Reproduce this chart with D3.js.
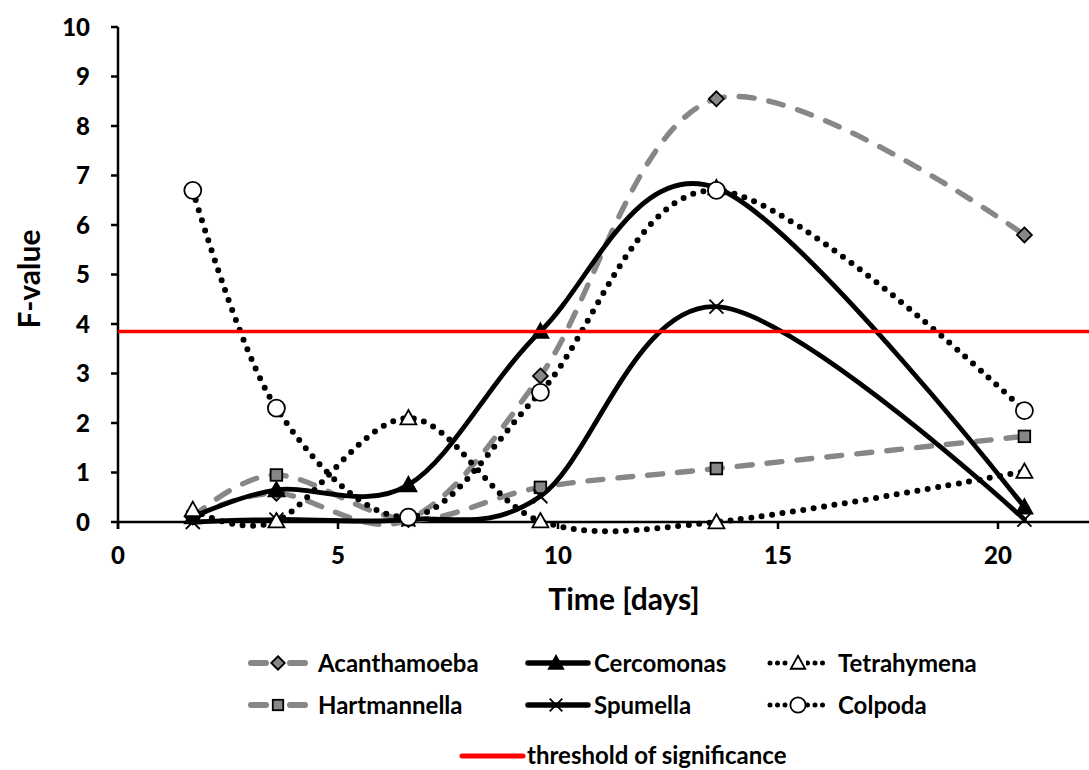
<!DOCTYPE html>
<html>
<head>
<meta charset="utf-8">
<script src="https://cdn.jsdelivr.net/npm/d3@7/dist/d3.min.js"></script>
<style>
  html, body { margin: 0; padding: 0; background: #fff; }
  svg { display: block; }
  text { font-family: Lato, "Open Sans", sans-serif; font-weight: bold; fill: #000; }
</style>
</head>
<body>
<svg id="chart" width="1089" height="770"></svg>
<script>
// Sampling days
const days = [1.7, 3.6, 6.6, 9.6, 13.6, 20.6];

// F-values per protist
const acanthamoeba = [0.1, 0.58, 0.05, 2.95, 8.55, 5.8];
const hartmannella = [0.1, 0.95, 0.05, 0.7, 1.08, 1.73];
const cercomonas   = [0.1, 0.65, 0.75, 3.85, 6.75, 0.3];
const spumella     = [0.0, 0.05, 0.05, 0.52, 4.35, 0.05];
const tetrahymena  = [0.25, 0.02, 2.1, 0.02, 0.0, 1.02];
const colpoda      = [6.7, 2.3, 0.1, 2.62, 6.7, 2.25];

const threshold = 3.85;
const thresholdLabel = "threshold of significance";

const xTicks = [0, 5, 10, 15, 20];
const yTicks = [0, 1, 2, 3, 4, 5, 6, 7, 8, 9, 10];

const series = [
  { name: "Acanthamoeba", values: acanthamoeba, style: "gray",  marker: "diamond" },
  { name: "Hartmannella", values: hartmannella, style: "gray",  marker: "square" },
  { name: "Cercomonas",   values: cercomonas,   style: "solid", marker: "triangleFilled" },
  { name: "Spumella",     values: spumella,     style: "solid", marker: "cross" },
  { name: "Tetrahymena",  values: tetrahymena,  style: "dot",   marker: "triangleOpen" },
  { name: "Colpoda",      values: colpoda,      style: "dot",   marker: "circle" }
];

const svg = d3.select("#chart");
const x = d3.scaleLinear().domain([0, 22]).range([118, 1086]);
const y = d3.scaleLinear().domain([0, 10]).range([522, 27]);

const GRAY = "#878787";

function applyLineStyle(sel, style) {
  if (style === "gray") {
    sel.attr("stroke", GRAY).attr("stroke-width", 5.4)
       .attr("stroke-dasharray", "15 15").attr("stroke-linecap", "round");
  } else if (style === "solid") {
    sel.attr("stroke", "#000").attr("stroke-width", 4.8).attr("stroke-linecap", "round");
  } else {
    sel.attr("stroke", "#000").attr("stroke-width", 6)
       .attr("stroke-dasharray", "0 10.5").attr("stroke-linecap", "round");
  }
  return sel;
}

function drawMarker(g, type, cx, cy, k = 1) {
  if (type === "diamond") {
    const s = 7.5 * k;
    g.append("path").attr("d", `M${cx},${cy - s}L${cx + s},${cy}L${cx},${cy + s}L${cx - s},${cy}Z`)
      .attr("fill", GRAY).attr("stroke", "#000").attr("stroke-width", 1.8);
  } else if (type === "square") {
    const s = 5.8 * k;
    g.append("rect").attr("x", cx - s).attr("y", cy - s).attr("width", 2 * s).attr("height", 2 * s)
      .attr("fill", GRAY).attr("stroke", "#000").attr("stroke-width", 1.8);
  } else if (type === "triangleFilled" || type === "triangleOpen") {
    const h = 8 * k;
    g.append("path").attr("d", `M${cx},${cy - h}L${cx + h},${cy + h * 0.8}L${cx - h},${cy + h * 0.8}Z`)
      .attr("fill", type === "triangleFilled" ? "#000" : "#fff")
      .attr("stroke", "#000").attr("stroke-width", 1.8);
  } else if (type === "cross") {
    const s = 7 * k;
    g.append("path").attr("d", `M${cx - s},${cy - s}L${cx + s},${cy + s}M${cx + s},${cy - s}L${cx - s},${cy + s}`)
      .attr("stroke", "#000").attr("stroke-width", 1.8).attr("fill", "none");
  } else if (type === "circle") {
    g.append("circle").attr("cx", cx).attr("cy", cy).attr("r", 8.5 * k)
      .attr("fill", "#fff").attr("stroke", "#000").attr("stroke-width", 1.8);
  }
}

// Axes
const axisG = svg.append("g");
axisG.append("line").attr("x1", x(0)).attr("x2", 1089).attr("y1", y(0)).attr("y2", y(0))
  .attr("stroke", "#000").attr("stroke-width", 2.5);
axisG.append("line").attr("x1", x(0)).attr("x2", x(0)).attr("y1", y(10)).attr("y2", y(0) + 7)
  .attr("stroke", "#000").attr("stroke-width", 2.5);

axisG.selectAll(".yt").data(yTicks).join("line")
  .attr("x1", x(0) - 7).attr("x2", x(0)).attr("y1", d => y(d)).attr("y2", d => y(d))
  .attr("stroke", "#000").attr("stroke-width", 2.5);
axisG.selectAll(".xt").data(xTicks).join("line")
  .attr("x1", d => x(d)).attr("x2", d => x(d)).attr("y1", y(0)).attr("y2", y(0) + 7)
  .attr("stroke", "#000").attr("stroke-width", 2.5);

axisG.selectAll(".ytl").data(yTicks).join("text")
  .attr("font-size", 24).attr("font-weight", 900).style("font-weight", 900)
  .attr("x", x(0) - 28).attr("y", d => y(d)).attr("dy", "0.36em")
  .attr("text-anchor", "end").text(d => d);
axisG.selectAll(".xtl").data(xTicks).join("text")
  .attr("font-size", 24).style("font-weight", 900)
  .attr("x", d => x(d)).attr("y", y(0) + 33).attr("dy", "0.36em")
  .attr("text-anchor", "middle").text(d => d);

svg.append("text").attr("font-size", 30)
  .attr("x", 624).attr("y", 599).attr("dy", "0.36em").attr("text-anchor", "middle")
  .text("Time [days]");
svg.append("text").attr("font-size", 30)
  .attr("transform", "translate(29,279) rotate(-90)").attr("dy", "0.36em").attr("text-anchor", "middle")
  .text("F-value");

// Series curves
const line = d3.line().x(d => x(d[0])).y(d => y(d[1])).curve(d3.curveCatmullRom.alpha(0));
const plot = svg.append("g");
series.forEach(s => {
  const pts = days.map((d, i) => [d, s.values[i]]);
  applyLineStyle(plot.append("path").attr("d", line(pts)).attr("fill", "none"), s.style);
});
series.forEach(s => {
  const mg = plot.append("g");
  days.forEach((d, i) => drawMarker(mg, s.marker, x(d), y(s.values[i])));
});

// Threshold line
svg.append("line").attr("x1", x(0)).attr("x2", 1089).attr("y1", y(threshold)).attr("y2", y(threshold))
  .attr("stroke", "#ff0000").attr("stroke-width", 3.5);

// Legend
const legendPos = [
  { col: 0, row: 0 }, { col: 0, row: 1 },
  { col: 1, row: 0 }, { col: 1, row: 1 },
  { col: 2, row: 0 }, { col: 2, row: 1 }
];
const colX = [248, 526, 768];
const rowY = [663, 705];
const leg = svg.append("g");
series.forEach((s, i) => {
  const p = legendPos[i];
  const x0 = colX[p.col], yy = rowY[p.row];
  const mid = x0 + 30;
  const g = leg.append("g");
  if (s.style === "gray") {
    g.append("line").attr("x1", x0 + 3).attr("x2", mid - 12).attr("y1", yy).attr("y2", yy)
      .attr("stroke", GRAY).attr("stroke-width", 6).attr("stroke-linecap", "round");
    g.append("line").attr("x1", mid + 12).attr("x2", x0 + 57).attr("y1", yy).attr("y2", yy)
      .attr("stroke", GRAY).attr("stroke-width", 6).attr("stroke-linecap", "round");
  } else if (s.style === "solid") {
    g.append("line").attr("x1", x0 + 2).attr("x2", x0 + 62).attr("y1", yy).attr("y2", yy)
      .attr("stroke", "#000").attr("stroke-width", 5.5).attr("stroke-linecap", "round");
  } else {
    g.append("line").attr("x1", x0 + 2).attr("x2", x0 + 62).attr("y1", yy).attr("y2", yy)
      .attr("stroke", "#000").attr("stroke-width", 5)
      .attr("stroke-dasharray", "0 7.5").attr("stroke-linecap", "round");
    g.append("rect").attr("x", mid - 8).attr("y", yy - 8).attr("width", 16).attr("height", 16).attr("fill", "#fff");
  }
  drawMarker(g, s.marker, mid, yy, 0.9);
  g.append("text").attr("font-size", 24)
    .attr("x", x0 + (s.style === "solid" ? 68 : 70)).attr("y", yy).attr("dy", "0.36em").text(s.name);
});
leg.append("line").attr("x1", 462).attr("x2", 523).attr("y1", 756).attr("y2", 756)
  .attr("stroke", "#ff0000").attr("stroke-width", 5).attr("stroke-linecap", "round");
leg.append("text").attr("font-size", 24)
  .attr("x", 527).attr("y", 755).attr("dy", "0.36em").text(thresholdLabel);
</script>
</body>
</html>
